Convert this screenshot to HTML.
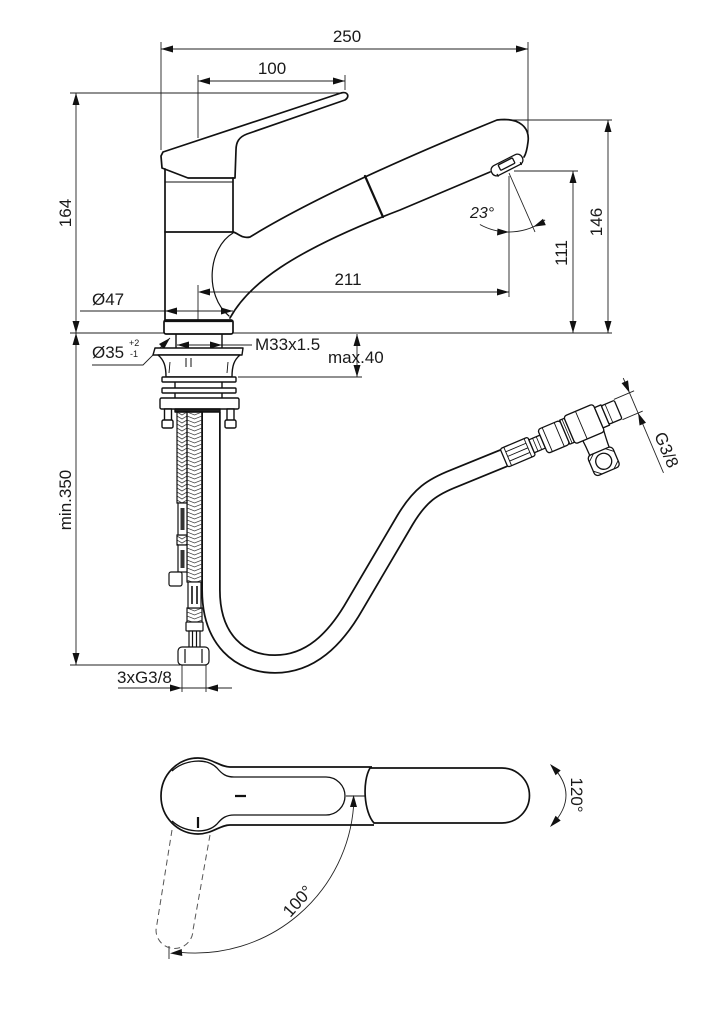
<!DOCTYPE html>
<html><head><meta charset="utf-8"><style>
html,body{margin:0;padding:0;background:#fff;}
svg{display:block;}
text{font-family:"Liberation Sans",Arial,sans-serif;font-size:17px;fill:#1a1a1a;}
</style></head><body>
<svg width="717" height="1023" viewBox="0 0 717 1023" xmlns="http://www.w3.org/2000/svg">
<defs>
<pattern id="bA" patternUnits="userSpaceOnUse" x="177" y="0" width="10" height="4"><path d="M0,0 L5,3 L10,0" fill="none" stroke="#444" stroke-width="0.8"/></pattern>
<pattern id="bB" patternUnits="userSpaceOnUse" x="187" y="0" width="15" height="4"><path d="M0,0 L7.5,3 L15,0" fill="none" stroke="#444" stroke-width="0.8"/></pattern>
</defs>
<rect width="717" height="1023" fill="#fff"/>

<!-- ============ DIMENSION LINES ============ -->
<g fill="none" stroke="#222" stroke-width="0.9">
<path d="M161,49 H528 M161,42 V150 M528,42 V134"/>
<path d="M198,81 H345 M198,75 V138 M345,75 V90"/>
<path d="M76,93 V665 M70,93 H344 M70,333 H612 M70,665 H180"/>
<path d="M80,311 H233"/>
<path d="M198,285 V320 M200,292 H509 M509,176 V297"/>
<path d="M608,120 V333 M500,120 H612"/>
<path d="M573,171 V333 M514,171 H578"/>
<path d="M357,334 V377 M238,377 H362"/>
<path d="M177,345 H252"/>
<path d="M92,365 H143 L170,338"/>
<path d="M118,688 H232 M182,665 V692 M206,665 V692"/>
<!-- 23 deg -->
<path d="M509,173 L535,232"/>
<path d="M479.9,224.5 A60,60 0 0 0 545.1,219.9"/>
<!-- 100 deg -->
<path d="M353.6,806 A159,159 0 0 1 181.1,952.4"/>
<path d="M169,946 V959"/>
<!-- 120 deg -->
<path d="M552,766 Q580,795 552,825"/>
</g>

<!-- ============ ARROWS ============ -->
<g fill="#111">
<polygon points="161,49 173,45.5 173,52.5"/><polygon points="528,49 516,45.5 516,52.5"/>
<polygon points="198,81 210,77.5 210,84.5"/><polygon points="345,81 333,77.5 333,84.5"/>
<polygon points="76,93 72.5,105 79.5,105"/><polygon points="76,333 72.5,321 79.5,321"/>
<polygon points="76,333 72.5,345 79.5,345"/><polygon points="76,665 72.5,653 79.5,653"/>
<polygon points="165,311 177,307.5 177,314.5"/><polygon points="233,311 221,307.5 221,314.5"/>
<polygon points="198,292 210,288.5 210,295.5"/><polygon points="509,292 497,288.5 497,295.5"/>
<polygon points="608,120 604.5,132 611.5,132"/><polygon points="608,333 604.5,321 611.5,321"/>
<polygon points="573,171 569.5,183 576.5,183"/><polygon points="573,333 569.5,321 576.5,321"/>
<polygon points="357,334 353.5,346 360.5,346"/><polygon points="357,377 353.5,365 360.5,365"/>
<polygon points="177,345 189,341.5 189,348.5"/><polygon points="222,345 210,341.5 210,348.5"/>
<polygon points="170,338 164,349 159,344"/>
<polygon points="182,688 170,684.5 170,691.5"/><polygon points="206,688 218,684.5 218,691.5"/>
<polygon points="509,232 497.5,228.5 497,235.5"/><polygon points="533.4,226.8 545.8,225.1 543,218.7"/>
<polygon points="353.6,795 350,807 357,807"/><polygon points="170,953.4 182.3,956 181.7,949"/>
<polygon points="550,764 560.7,770.4 555.6,775.2"/><polygon points="550,827 560.7,820.6 555.6,815.8"/>
</g>

<!-- ============ FRONT VIEW FAUCET ============ -->
<g fill="none" stroke="#111" stroke-width="1.7" stroke-linejoin="round" stroke-linecap="round">
<!-- handle -->
<path d="M163,152 L341,93 C348,91 350,97 345,100 L247,134 C239,137 236,142 236,150 L235,178 L188,178 L162,168 L161,156 Z" fill="#fff"/>
<!-- column -->
<path d="M165,169 V320 M233,178 V232"/>
<path d="M165,182 H233" stroke-width="0.9"/>
<path d="M165,232 H233"/>
<!-- spout -->
<path d="M233,232 C238,233 242,239 250,237 Q330,188 497,120 C520,117 530,128 528,142 C527,150 526,154 524,157"/>
<path d="M230,318 C248,285 290,252 400,210 L490,172"/>
<path d="M233,233 C208,248 204,295 229,316" stroke-width="1.2"/>
<path d="M365,176 L383,217" stroke-width="2.2"/>
<!-- aerator -->
<g transform="translate(507,165) rotate(-27)" fill="#fff" stroke-width="1.3">
<rect x="-17" y="-5.5" width="34" height="11" rx="5"/>
<rect x="-8" y="-4" width="16" height="6" rx="1"/>
<path d="M-13,4 V6 M13,4 V6" />
</g>
<!-- base ring -->
<rect x="164" y="320" width="69" height="14" rx="2" fill="#fff"/>
<path d="M165,321 H232" stroke-width="2.2"/>
</g>

<!-- ============ PULL-OUT HOSE ============ -->
<path d="M211,412 L211,590 C211,640 240,664 275,664 C310,664 335,640 355,605 L405,520 C420,495 432,487 455,478 L504,458" fill="none" stroke="#111" stroke-width="19.5"/>
<path d="M211,411 L211,590 C211,640 240,664 275,664 C310,664 335,640 355,605 L405,520 C420,495 432,487 455,478 L505,457.6" fill="none" stroke="#fff" stroke-width="16"/>

<!-- ============ MOUNTING ============ -->
<g fill="#fff" stroke="#111" stroke-width="1.4" stroke-linejoin="round">
<path d="M176,334 V349 M222,334 V349" fill="none"/>
<path d="M155,348 L243,348 L242,355 L153,355 Z"/>
<path d="M158,355 C164,360 166,366 166,377 L232,377 C232,366 234,360 240,355 Z"/>
<path d="M186,358 V367 M191,358 V367" fill="none" stroke-width="1"/>
<path d="M170,362 L169,373 M228,362 L227,373" fill="none" stroke-width="0.9"/>
<rect x="162" y="377" width="74" height="5" rx="1"/>
<path d="M175,382 V388 M222,382 V388 M175,393 V398 M222,393 V398" fill="none"/>
<rect x="162" y="388" width="74" height="5" rx="1"/>
<rect x="160" y="398" width="79" height="11" rx="1.5"/>
<!-- bolts -->
<rect x="164.5" y="409" width="7" height="12"/>
<rect x="162" y="420" width="11" height="8" rx="1.5"/>
<rect x="227" y="409" width="7" height="12"/>
<rect x="225" y="420" width="11" height="8" rx="1.5"/>
<rect x="175" y="409" width="45" height="3" fill="#222"/>
</g>

<!-- braided hoses -->
<g stroke="#111" stroke-width="1.2">
<rect x="177" y="412" width="10" height="91" fill="url(#bA)"/>
<rect x="177" y="535" width="10" height="10" fill="url(#bA)"/>
<rect x="187" y="412" width="15" height="170" fill="url(#bB)"/>
<rect x="187" y="608" width="15" height="15" fill="url(#bB)"/>
</g>
<!-- fittings -->
<g fill="#fff" stroke="#111" stroke-width="1.2">
<rect x="178" y="503" width="9" height="32"/>
<rect x="180.5" y="508" width="4" height="22" fill="#333" stroke="none"/>
<rect x="178" y="545" width="9" height="27"/>
<rect x="180.5" y="550" width="4" height="18" fill="#333" stroke="none"/>
<rect x="169" y="572" width="13" height="14" rx="2"/>
<rect x="188" y="582" width="13" height="26"/>
<path d="M192,586 V604 M197,586 V604" stroke-width="1.6"/>
<rect x="186" y="622" width="17" height="9" rx="1"/>
<rect x="189" y="631" width="11" height="17"/>
<path d="M192.5,631 V648 M196.5,631 V648"/>
<rect x="178" y="647" width="31" height="18" rx="4"/>
<path d="M185,649 V663 M202,649 V663"/>
</g>

<!-- ============ CONNECTOR ============ -->
<g transform="translate(504,458) rotate(-23)" stroke="#111" stroke-width="1.3" fill="#fff" stroke-linejoin="round">
<rect x="0" y="-10" width="30" height="20" rx="2"/>
<path d="M4,-10 V10 M26,-10 V10 M4,-5 H26 M4,0 H26 M4,5 H26" fill="none" stroke-width="0.9"/>
<rect x="30" y="-7" width="12" height="14"/>
<path d="M34,-7 V7 M38,-7 V7" fill="none" stroke-width="0.8"/>
<rect x="42" y="-13" width="24" height="26" rx="3"/>
<path d="M47,-13 V13 M60,-13 V13" fill="none" stroke-width="0.9"/>
<rect x="66" y="-13" width="5" height="26"/>
<path d="M68.5,-13 V13" fill="none" stroke-width="0.8"/>
<path d="M79,10 C80,22 80,28 80,33 L101,33 C101,26 102,18 103,10 Z"/>
<rect x="71" y="-15" width="32" height="30" rx="3"/>
<path d="M84,-15 V15" fill="none" stroke-width="0.9"/>
<rect x="103" y="-11" width="7" height="22"/>
<rect x="110" y="-10" width="14" height="20" rx="1.5"/>
<path d="M114,-10 V10" fill="none" stroke-width="0.8"/>
<rect x="77" y="31" width="27" height="22" rx="4"/>
<circle cx="90.5" cy="42" r="8"/>
<path d="M77,37 L84,31 M104,37 L97,31 M77,47 L84,53 M104,47 L97,53" fill="none" stroke-width="0.9"/>
<!-- G3/8 dim -->
<g fill="none" stroke="#222" stroke-width="0.9">
<path d="M124,-11 H146 M124,11 H146"/>
<path d="M141,-27 V76"/>
</g>
<polygon points="141,-11 137.5,-23 144.5,-23" fill="#111" stroke="none"/>
<polygon points="141,11 137.5,23 144.5,23" fill="#111" stroke="none"/>
<text transform="translate(147,56) rotate(90)" text-anchor="middle" stroke="none">G3/8</text>
</g>

<!-- ============ TOP VIEW ============ -->
<g fill="none" stroke="#111" stroke-width="1.7" stroke-linejoin="round">
<path d="M230,767 C220,767 212,758 198,758 A37,38 0 0 0 198,834 C212,834 220,825 230,825"/>
<path d="M230,767 H372 M230,825 H374"/>
<path d="M370,768 H502 A27.5,27.5 0 0 1 502,823 H374 C364,812 362,782 370,768 Z" fill="#fff"/>
<path d="M172,771 C184,760 206,757 217,768 C222,774 226,777 234,777 H326 A19,19 0 0 1 326,815 H234 C226,815 222,818 217,824 C206,835 184,832 172,821" stroke-width="1.3"/>
<path d="M235,796 H246 M198,817 V828" stroke-width="2.2"/>
<path d="M346,796 H366" stroke-width="1"/>
<path d="M172,830 L156,930 A18.5,18.5 0 0 0 193,930 L210,835" stroke="#555" stroke-width="1" stroke-dasharray="6,4"/>
</g>

<!-- ============ TEXT ============ -->
<text x="347" y="42" text-anchor="middle">250</text>
<text x="272" y="74" text-anchor="middle">100</text>
<text transform="translate(71,213) rotate(-90)" text-anchor="middle">164</text>
<text transform="translate(71,500) rotate(-90)" text-anchor="middle">min.350</text>
<text transform="translate(567,253) rotate(-90)" text-anchor="middle">111</text>
<text transform="translate(602,222) rotate(-90)" text-anchor="middle">146</text>
<text x="92" y="305">Ø47</text>
<text x="348" y="285" text-anchor="middle">211</text>
<text x="470" y="218" style="font-style:italic;font-size:16px">23°</text>
<text x="255" y="350">M33x1.5</text>
<text x="328" y="363">max.40</text>
<text x="92" y="358">Ø35</text>
<text x="129" y="346" style="font-size:9px">+2</text>
<text x="130" y="357" style="font-size:9px">-1</text>
<text x="117" y="683">3xG3/8</text>
<text transform="translate(302,905) rotate(-48)" text-anchor="middle">100°</text>
<text transform="translate(571,795) rotate(90)" text-anchor="middle">120°</text>
</svg>
</body></html>
